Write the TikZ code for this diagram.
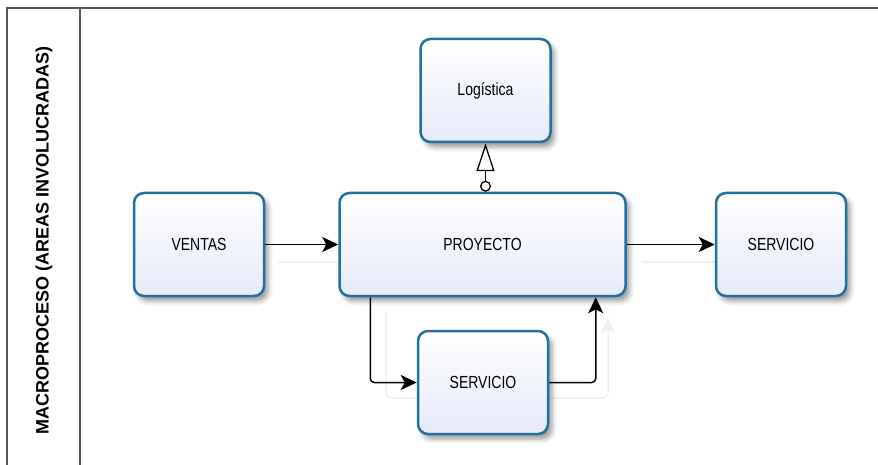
\documentclass[tikz,border=0pt]{standalone}
\usepackage{fontspec}
\setmainfont{Liberation Sans}
\newfontfamily\boxfont[FakeStretch=0.8]{Liberation Sans}
\usetikzlibrary{arrows.meta,shadows.blur}
\definecolor{boxline}{RGB}{34,112,160}
\definecolor{boxfill}{RGB}{230,234,250}
\definecolor{frameline}{RGB}{85,85,85}
\definecolor{ghost}{RGB}{240,240,240}
\begin{document}
\begin{tikzpicture}[x=1pt,y=-1pt,
  area/.style={draw=boxline, line width=2.5pt, rounded corners=10pt,
    top color=white, bottom color=boxfill,
    minimum width=130pt, minimum height=103pt,
    font=\boxfont\fontsize{17.5}{20}\selectfont, text=black,
    blur shadow={shadow xshift=4pt, shadow yshift=-5pt, shadow blur radius=5pt, shadow opacity=40}},
  flow/.style={line width=1.5pt, black, -{Stealth[length=16pt,width=15pt,inset=4pt]}},
  faint/.style={ghost, line width=1.5pt},
]
\useasboundingbox (0,0) rectangle (878,465);

% swimlane frame
\draw[frameline, line width=2pt] (7,470) -- (7,8.5) -- (880,8.5);
\draw[frameline, line width=1.5pt] (80,8.5) -- (80,470);
\node[rotate=90, font=\bfseries\fontsize{18}{20}\selectfont] (lane) at (44,240) {MACROPROCESO (AREAS INVOLUCRADAS)};

% faint echoes of the connectors
\coordinate (e1) at (278,262); \coordinate (e2) at (338,262);
\coordinate (e3) at (642,262); \coordinate (e4) at (715,262);
\draw[faint] (e1) -- (e2);
\draw[faint] (e3) -- (e4);
\coordinate (g1) at (386,313); \coordinate (g2) at (608,318);
\draw[faint, rounded corners=6pt, -{Stealth[length=16pt,width=15pt,inset=4pt]}] (g1) -- (386,398) -- (608,398) -- (g2);

% areas
\node[area] (log) at (485.5,90.5) {Logística};
\node[area] (ven) at (199,244.5) {VENTAS};
\node[area, minimum width=286pt] (pro) at (482.5,244.5) {PROYECTO};
\node[area] (ser) at (781,244.5) {SERVICIO};
\node[area] (sba) at (483,382.5) {SERVICIO};

% connectors
\draw[flow] (ven) -- (pro);
\draw[flow] (pro) -- (ser);
\draw[line width=1.3pt, {Circle[open,length=11pt,width=11pt]}-{Triangle[open,length=28pt,width=18pt]}]
  (log.south |- pro.north) -- (log.south);
\draw[flow, rounded corners=4pt] ([xshift=32pt]pro.south west) |- (sba.west);
\draw[flow, rounded corners=4pt] (sba.east) -| ([xshift=-31pt]pro.south east);
\end{tikzpicture}
\end{document}
